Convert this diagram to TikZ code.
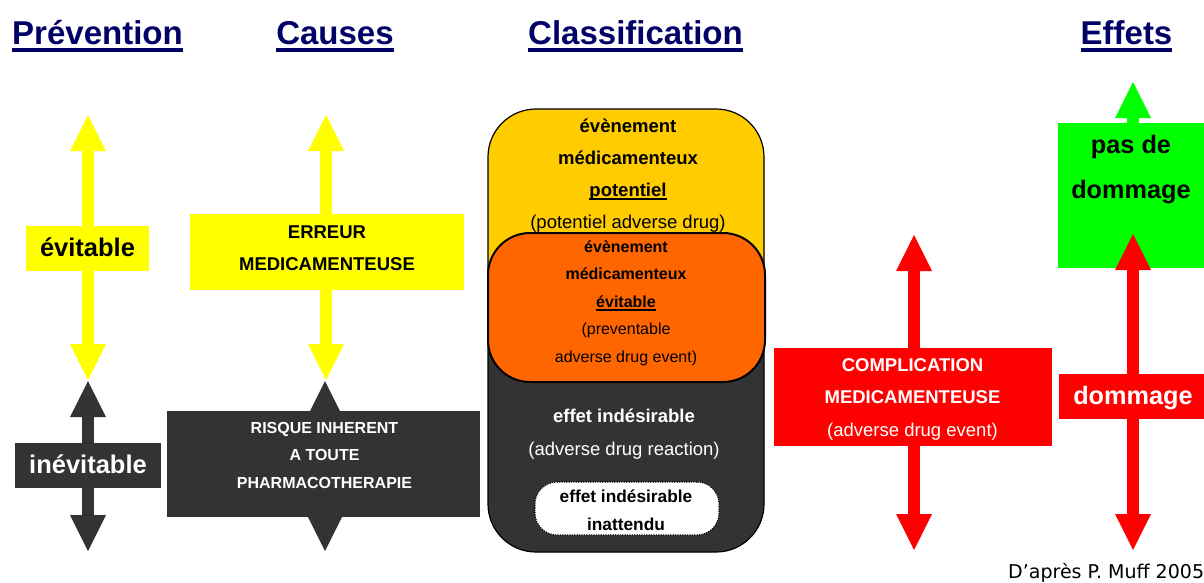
\documentclass[tikz,border=0pt]{standalone}
\usepackage{fontspec}
\setmainfont{Liberation Sans}
\newfontfamily\footfont{DejaVu Sans}
\usetikzlibrary{arrows.meta}
\definecolor{navy}{HTML}{000066}
\definecolor{yel}{HTML}{FFFF00}
\definecolor{dark}{HTML}{333333}
\definecolor{redc}{HTML}{FF0000}
\definecolor{grn}{HTML}{00FF00}
\definecolor{gold}{HTML}{FFCC00}
\definecolor{orng}{HTML}{FF6600}
\newcommand\setfs[2]{\fontsize{#1}{#2}\selectfont}
\newcommand\myul[3]{\setbox0=\hbox{#3}\rlap{\rule[-#1]{\wd0}{#2}}\box0}
\begin{document}
\begin{tikzpicture}[x=1pt,y=-1pt,
  box/.style={inner sep=0pt, outer sep=0pt, draw=none},
  txt/.style={inner sep=0pt, anchor=base, align=center},
  head/.style={txt, text=navy, font=\setfs{33}{38}\bfseries},
  dbl/.style={line width=12pt, {Triangle[width=36pt,length=36pt,line width=0pt]}-{Triangle[width=36pt,length=36pt,line width=0pt]}},
  sgl/.style={line width=12pt, {Triangle[width=36pt,length=36pt,line width=0pt]}-}]
\fill[white] (0,0) rectangle (1204,582);
\useasboundingbox (0,0) rectangle (1204,582);

% headings
\node[head] (hprev) at (97.5,44) {\myul{7.5pt}{4pt}{Prévention}};
\node[head] (hcaus) at (335,44) {\myul{7.5pt}{4pt}{Causes}};
\node[head] (hclas) at (635.5,44) {\myul{7.5pt}{4pt}{Classification}};
\node[head] (heff) at (1126.5,44) {\myul{7.5pt}{4pt}{Effets}};

% arrow end points
\coordinate (pyT) at (88,115); \coordinate (pyB) at (88,380);
\coordinate (pdT) at (88,381); \coordinate (pdB) at (88,551);
\coordinate (cyT) at (326,115); \coordinate (cyB) at (326,380);
\coordinate (cdT) at (325,381); \coordinate (cdB) at (325,551);
\coordinate (kT) at (914,235); \coordinate (kB) at (914,550);
\coordinate (gT) at (1133,82); \coordinate (gB) at (1133,200);
\coordinate (rT) at (1133,234); \coordinate (rB) at (1133,550);

% Prevention
\draw[dbl, yel] (pyT) -- (pyB);
\draw[dbl, dark] (pdT) -- (pdB);
\node[box, fill=yel, minimum width=123pt, minimum height=45pt] (bevit) at (87.5,248.5) {};
\node[txt, font=\setfs{25.5}{28}\bfseries] (tevit) at (87.5,256) {évitable};
\node[box, fill=dark, minimum width=146pt, minimum height=45pt] (binev) at (88,465.5) {};
\node[txt, text=white, font=\setfs{25.5}{28}\bfseries] (tinev) at (88,473) {inévitable};

% Causes
\draw[dbl, yel] (cyT) -- (cyB);
\draw[dbl, dark] (cdT) -- (cdB);
\node[box, fill=yel, minimum width=274pt, minimum height=76pt] (berr) at (327,252) {};
\node[txt, font=\setfs{18.5}{32}\bfseries] (terr) at (327,270) {ERREUR\\MEDICAMENTEUSE};
\node[box, fill=dark, minimum width=313pt, minimum height=106pt] (brisk) at (323.5,464) {};
\node[txt, text=white, font=\setfs{16}{27.5}\bfseries] (trisk) at (324.5,488) {RISQUE INHERENT\\A TOUTE\\PHARMACOTHERAPIE};

% Classification
\node[draw=black, line width=1.2pt, rounded corners=48pt, minimum width=276pt, minimum height=443pt, fill=dark,
  path picture={\fill[gold] (path picture bounding box.north west) rectangle ([yshift=-200pt]path picture bounding box.north east);}] (cls) at (626,330.5) {};
\node[draw=black, line width=2pt, rounded corners=42pt, fill=orng, minimum width=277pt, minimum height=149pt] (clsev) at (626.5,307.5) {};
\node[draw=black, dash pattern=on 1.2pt off 1.2pt, line width=1.1pt, fill=white, rounded corners=22pt, minimum width=184pt, minimum height=53pt] (clsin) at (627,508.5) {};
\node[txt, font=\setfs{18.5}{32}\bfseries] (tpot) at (628,228) {évènement\\médicamenteux\\\myul{3.5pt}{2pt}{potentiel}\\\mdseries(potentiel adverse drug)};
\node[txt, font=\setfs{16}{27.5}\bfseries] (tevi) at (626,362) {évènement\\médicamenteux\\\myul{3.5pt}{2pt}{évitable}\\\mdseries(preventable\\\mdseries adverse drug event)};
\node[txt, text=white, font=\setfs{18.5}{33}\bfseries] (tadr) at (624,455) {effet indésirable\\\mdseries(adverse drug reaction)};
\node[txt, font=\setfs{17.3}{28}\bfseries] (tin) at (626,530) {effet indésirable\\inattendu};

% Complication
\draw[dbl, redc] (kT) -- (kB);
\node[box, fill=redc, minimum width=278pt, minimum height=98pt] (bcomp) at (913,397) {};
\node[txt, text=white, font=\setfs{18.5}{32.5}\bfseries] (tcomp) at (912.5,436) {COMPLICATION\\MEDICAMENTEUSE\\\mdseries(adverse drug event)};

% Effets
\draw[sgl, grn] (gT) -- (gB);
\node[box, fill=grn, minimum width=152pt, minimum height=145pt] (bpas) at (1134,195.5) {};
\node[txt, font=\setfs{25.3}{45}\bfseries] (tpas) at (1131,198) {pas de\\dommage};
\draw[dbl, redc] (rT) -- (rB);
\node[box, fill=redc, minimum width=151pt, minimum height=45pt] (bdom) at (1134.5,396.5) {};
\node[txt, text=white, font=\setfs{25.3}{28}\bfseries] (tdom) at (1133,404) {dommage};

% footer
\node[anchor=base west, inner sep=0pt, font=\footfont\setfs{19}{22}] (foot) at (1008,578) {D’après P. Muff 2005};
\end{tikzpicture}
\end{document}
